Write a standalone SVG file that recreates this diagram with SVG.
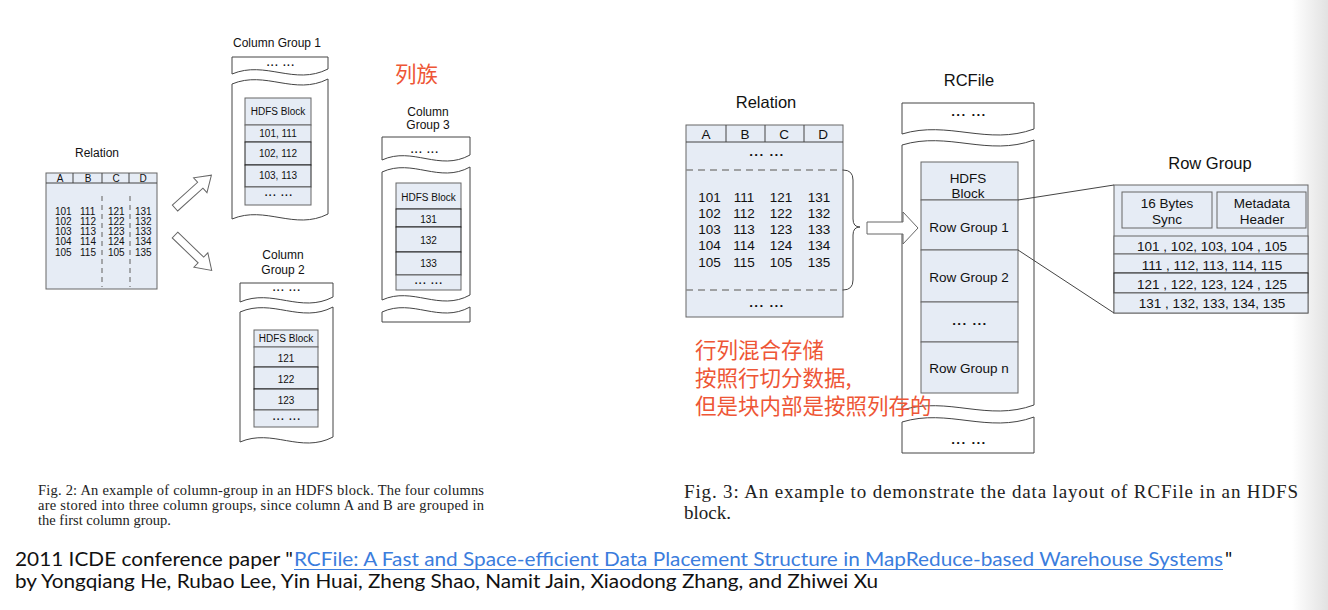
<svg xmlns="http://www.w3.org/2000/svg" width="1328" height="610" viewBox="0 0 1328 610">
<defs>
<linearGradient id="shadow" x1="0" y1="0" x2="1" y2="0">
<stop offset="0" stop-color="#ffffff"/>
<stop offset="1" stop-color="#e2e2e2"/>
</linearGradient>
</defs>
<style>
.sans{font-family:"Liberation Sans",Arial,sans-serif;fill:#111}
.t10{font-size:10px}
.t12{font-size:12px}
.t13{font-size:13.5px}
.t16{font-size:16.5px}
.mid{text-anchor:middle}
.cell{fill:#e6ecf5;stroke:#666;stroke-width:1}
.dark{fill:#e6ecf5;stroke:#222;stroke-width:1}
.paper{fill:#fff;stroke:#444;stroke-width:1}
.dash{stroke:#888;stroke-width:1.6;stroke-dasharray:7 5;fill:none}
.vdash{stroke:#777;stroke-width:1.2;stroke-dasharray:5 4;fill:none}
.line{stroke:#444;stroke-width:1;fill:none}
.hollow{fill:#fff;stroke:#666;stroke-width:1}
.red{font-family:"Noto Sans CJK SC","Noto Sans CJK JP",sans-serif;font-size:21.5px;fill:#ee5636}
.serif{font-family:"Liberation Serif","Times New Roman",serif;fill:#222}
.cap{font-family:Lato,"Liberation Sans",sans-serif;font-size:19.5px;fill:#111}
.dots{letter-spacing:1.3px;font-weight:bold}
</style>
<rect width="1328" height="610" fill="#fff"/>
<rect x="1292" y="0" width="36" height="610" fill="url(#shadow)"/>

<!-- ===== Fig. 2 ===== -->
<g id="relation-left">
<text class="sans t12 mid" x="97" y="157">Relation</text>
<rect class="cell" x="46" y="173" width="111" height="116"/>
<line class="line" x1="46" y1="183" x2="157" y2="183"/>
<line class="line" x1="73" y1="173" x2="73" y2="183"/>
<line class="line" x1="102" y1="173" x2="102" y2="183"/>
<line class="line" x1="129" y1="173" x2="129" y2="183"/>
<text class="sans t10 mid" x="60" y="182">A</text>
<text class="sans t10 mid" x="88" y="182">B</text>
<text class="sans t10 mid" x="116" y="182">C</text>
<text class="sans t10 mid" x="143" y="182">D</text>
<line class="vdash" x1="102" y1="196" x2="102" y2="287"/>
<line class="vdash" x1="130" y1="196" x2="130" y2="287"/>
<g class="sans t10">
<text x="55" y="214.5">101</text><text x="80" y="214.5">111</text><text x="108" y="214.5">121</text><text x="135" y="214.5">131</text>
<text x="55" y="224.8">102</text><text x="80" y="224.8">112</text><text x="108" y="224.8">122</text><text x="135" y="224.8">132</text>
<text x="55" y="235">103</text><text x="80" y="235">113</text><text x="108" y="235">123</text><text x="135" y="235">133</text>
<text x="55" y="245.3">104</text><text x="80" y="245.3">114</text><text x="108" y="245.3">124</text><text x="135" y="245.3">134</text>
<text x="55" y="255.6">105</text><text x="80" y="255.6">115</text><text x="108" y="255.6">105</text><text x="135" y="255.6">135</text>
</g>
</g>

<g id="connectors-left">
<polygon class="hollow" transform="translate(175,208) rotate(-42)" points="0,-4 34,-4 34,-10 49,0 34,10 34,4 0,4"/>
<polygon class="hollow" transform="translate(175,235) rotate(44)" points="0,-4 36,-4 36,-10 51,0 36,10 36,4 0,4"/>
</g>

<g id="column-group-1">
<text class="sans t12 mid" x="277" y="47">Column Group 1</text>
<path class="paper" d="M232,57 H328 V69 C294.4,86 265.6,60 232,74 Z"/>
<text class="sans t10 mid dots" x="281" y="66">... ...</text>
<path class="paper" d="M232,84 C265.6,70 294.4,96 328,79 V214 C294.4,231 265.6,205 232,219 Z"/>
<rect class="cell" x="245" y="98" width="66" height="27"/>
<rect class="cell" x="245" y="125" width="66" height="17"/>
<rect class="dark" x="245" y="142" width="66" height="23"/>
<rect class="dark" x="245" y="165" width="66" height="22"/>
<rect class="cell" x="245" y="187" width="66" height="18"/>
<text class="sans t10 mid" x="278" y="114.5">HDFS Block</text>
<text class="sans t10 mid" x="278" y="137">101, 111</text>
<text class="sans t10 mid" x="278" y="157">102, 112</text>
<text class="sans t10 mid" x="278" y="179">103, 113</text>
<text class="sans t10 mid dots" x="279" y="196">... ...</text>
</g>

<g id="column-group-2">
<text class="sans t12 mid" x="283" y="259">Column</text>
<text class="sans t12 mid" x="283" y="274">Group 2</text>
<path class="paper" d="M240,283 H333 V297 C300.5,314 272.5,288 240,302 Z"/>
<text class="sans t10 mid dots" x="287" y="291">... ...</text>
<path class="paper" d="M240,312 C272.5,298 300.5,324 333,307 V437 C300.5,454 272.5,428 240,442 Z"/>
<rect class="cell" x="254" y="330" width="64" height="17"/>
<rect class="cell" x="254" y="347" width="64" height="20"/>
<rect class="dark" x="254" y="367" width="64" height="22"/>
<rect class="dark" x="254" y="389" width="64" height="21"/>
<rect class="cell" x="254" y="410" width="64" height="17"/>
<text class="sans t10 mid" x="286" y="341.5">HDFS Block</text>
<text class="sans t10 mid" x="286" y="361.5">121</text>
<text class="sans t10 mid" x="286" y="382.5">122</text>
<text class="sans t10 mid" x="286" y="403.5">123</text>
<text class="sans t10 mid dots" x="287" y="420">... ...</text>
</g>

<g id="column-group-3">
<text class="sans t12 mid" x="428" y="116">Column</text>
<text class="sans t12 mid" x="428" y="129">Group 3</text>
<path class="paper" d="M382,137 H470 V155 C439.2,172 412.8,146 382,160 Z"/>
<text class="sans t10 mid dots" x="425" y="153">... ...</text>
<path class="paper" d="M382,172 C412.8,158 439.2,184 470,167 V295 C439.2,312 412.8,286 382,300 Z"/>
<path class="paper" d="M382,312 C412.8,298 439.2,324 470,307 V322 H382 Z"/>
<rect class="cell" x="396" y="183" width="65" height="26"/>
<rect class="dark" x="396" y="209" width="65" height="18"/>
<rect class="dark" x="396" y="227" width="65" height="25"/>
<rect class="dark" x="396" y="252" width="65" height="23"/>
<rect class="cell" x="396" y="275" width="65" height="15"/>
<text class="sans t10 mid" x="428.5" y="201">HDFS Block</text>
<text class="sans t10 mid" x="428.5" y="222.5">131</text>
<text class="sans t10 mid" x="428.5" y="243.5">132</text>
<text class="sans t10 mid" x="428.5" y="266.5">133</text>
<text class="sans t10 mid dots" x="429" y="284">... ...</text>
</g>

<g id="note-column-family">
<text class="red" x="395" y="82">列族</text>
</g>

<g id="caption-fig2">
<text class="serif" font-size="14.5" x="38" y="495" textLength="446" lengthAdjust="spacing">Fig. 2: An example of column-group in an HDFS block. The four columns</text>
<text class="serif" font-size="14.5" x="38" y="510" textLength="446" lengthAdjust="spacing">are stored into three column groups, since column A and B are grouped in</text>
<text class="serif" font-size="14.5" x="38" y="524.5">the first column group.</text>
</g>

<!-- ===== Fig. 3 ===== -->
<g id="relation-right">
<text class="sans t16 mid" x="766" y="108">Relation</text>
<rect class="cell" x="686" y="125" width="157" height="192"/>
<line class="line" x1="686" y1="142" x2="843" y2="142"/>
<line class="line" x1="726" y1="125" x2="726" y2="142"/>
<line class="line" x1="765" y1="125" x2="765" y2="142"/>
<line class="line" x1="804" y1="125" x2="804" y2="142"/>
<text class="sans t13 mid" x="706" y="138.5">A</text>
<text class="sans t13 mid" x="745" y="138.5">B</text>
<text class="sans t13 mid" x="784" y="138.5">C</text>
<text class="sans t13 mid" x="823" y="138.5">D</text>
<text class="sans t13 mid dots" x="767" y="156">... ...</text>
<line class="dash" x1="686" y1="170" x2="843" y2="170"/>
<line class="dash" x1="686" y1="290" x2="843" y2="290"/>
<g class="sans t13 mid">
<text x="709.5" y="202">101</text><text x="744" y="202">111</text><text x="781" y="202">121</text><text x="819" y="202">131</text>
<text x="709.5" y="218">102</text><text x="744" y="218">112</text><text x="781" y="218">122</text><text x="819" y="218">132</text>
<text x="709.5" y="234">103</text><text x="744" y="234">113</text><text x="781" y="234">123</text><text x="819" y="234">133</text>
<text x="709.5" y="250">104</text><text x="744" y="250">114</text><text x="781" y="250">124</text><text x="819" y="250">134</text>
<text x="709.5" y="267">105</text><text x="744" y="267">115</text><text x="781" y="267">105</text><text x="819" y="267">135</text>
</g>
<text class="sans t13 mid dots" x="767" y="307">... ...</text>
</g>

<g id="rcfile">
<text class="sans t16 mid" x="969" y="86">RCFile</text>
<path class="paper" d="M902,103 H1034 V129 C987.8,146 948.2,120 902,134 Z"/>
<text class="sans t13 mid dots" x="969" y="116">... ...</text>
<path class="paper" d="M902,145 C948.2,131 987.8,157 1034,140 V405 C987.8,422 948.2,396 902,410 Z"/>
<path class="paper" d="M902,422 C948.2,408 987.8,434 1034,417 V453 H902 Z"/>
<text class="sans t13 mid dots" x="969" y="444">... ...</text>
<rect class="cell" x="921" y="162" width="97" height="38"/>
<rect class="cell" x="921" y="200" width="97" height="50"/>
<rect class="cell" x="921" y="250" width="97" height="52"/>
<rect class="cell" x="921" y="302" width="97" height="40"/>
<rect class="cell" x="921" y="342" width="97" height="51"/>
<text class="sans t13 mid" x="968" y="183">HDFS</text>
<text class="sans t13 mid" x="968" y="198">Block</text>
<text class="sans t13 mid" x="969" y="232">Row Group 1</text>
<text class="sans t13 mid" x="969" y="282">Row Group 2</text>
<text class="sans t13 mid dots" x="970" y="325">... ...</text>
<text class="sans t13 mid" x="969" y="373">Row Group n</text>
</g>

<g id="row-group">
<text class="sans t16 mid" x="1210" y="169">Row Group</text>
<rect class="cell" x="1114" y="185" width="194" height="128"/>
<rect class="cell" x="1122" y="192" width="90" height="36"/>
<rect class="cell" x="1217" y="192" width="89" height="36"/>
<text class="sans t13 mid" x="1167" y="208">16 Bytes</text>
<text class="sans t13 mid" x="1167" y="224">Sync</text>
<text class="sans t13 mid" x="1262" y="208">Metadata</text>
<text class="sans t13 mid" x="1262" y="224">Header</text>
<rect class="cell" x="1114" y="236" width="194" height="18"/>
<rect class="cell" x="1114" y="254" width="194" height="19"/>
<rect class="dark" x="1114" y="273" width="194" height="20"/>
<rect class="cell" x="1114" y="293" width="194" height="20"/>
<text class="sans t13 mid" x="1212" y="250.5">101 , 102, 103, 104 , 105</text>
<text class="sans t13 mid" x="1212" y="269.5">111 , 112, 113, 114, 115</text>
<text class="sans t13 mid" x="1212" y="288.5">121 , 122, 123, 124 , 125</text>
<text class="sans t13 mid" x="1212" y="307.5">131 , 132, 133, 134, 135</text>
</g>

<g id="connectors-right">
<path class="line" d="M843,170 Q853,170 853,180 L853,219 Q853,227 860,227 Q853,227 853,235 L853,280 Q853,290 843,290"/>
<polygon class="hollow" points="867,222 903,222 903,212 918,228 903,244 903,234 867,234"/>
<line class="line" x1="1018" y1="200" x2="1114" y2="185"/>
<line class="line" x1="1018" y1="250" x2="1114" y2="313"/>
</g>

<g id="note-hybrid">
<text class="red" x="695" y="358">行列混合存储</text>
<text class="red" x="695" y="386">按照行切分数据,</text>
<text class="red" x="695" y="414">但是块内部是按照列存的</text>
</g>

<g id="caption-fig3">
<text class="serif" font-size="19" x="684" y="498" textLength="614" lengthAdjust="spacing">Fig. 3: An example to demonstrate the data layout of RCFile in an HDFS</text>
<text class="serif" font-size="19" x="684" y="519">block.</text>
</g>

<g id="citation">
<text class="cap" x="15" y="566" textLength="278" lengthAdjust="spacingAndGlyphs">2011 ICDE conference paper "</text>
<text class="cap" x="294" y="566" style="fill:#3b7ddd" textLength="929" lengthAdjust="spacingAndGlyphs">RCFile: A Fast and Space-efficient Data Placement Structure in MapReduce-based Warehouse Systems</text>
<line x1="294" y1="569.5" x2="1223" y2="569.5" stroke="#3b7ddd" stroke-width="1.2"/>
<text class="cap" x="1225" y="566">"</text>
<text class="cap" x="15" y="588" textLength="863" lengthAdjust="spacingAndGlyphs">by Yongqiang He, Rubao Lee, Yin Huai, Zheng Shao, Namit Jain, Xiaodong Zhang, and Zhiwei Xu</text>
</g>
</svg>
